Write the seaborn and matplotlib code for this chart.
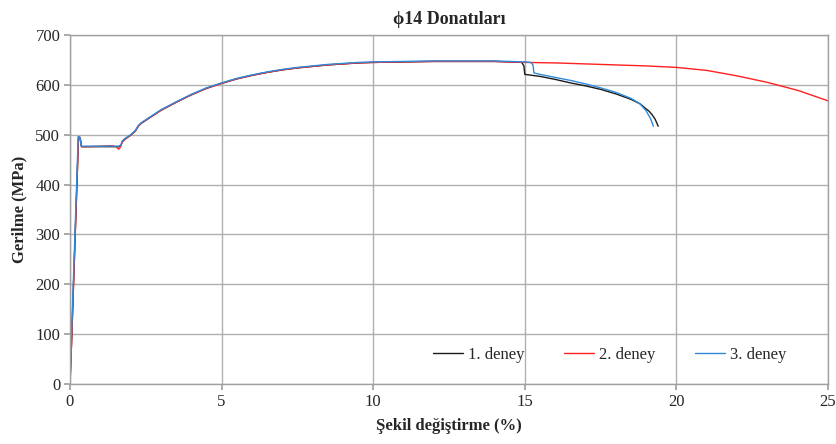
import numpy as np
import pandas as pd
import matplotlib
matplotlib.use("Agg")
import matplotlib.pyplot as plt
import seaborn as sns

# ---- data (strain %, stress MPa) ----
x1 = [0, 0.05, 0.10, 0.15, 0.20, 0.25, 0.28, 0.32, 0.34, 0.38, 0.6, 1.0, 1.4, 1.6, 1.68, 1.72, 1.8,
      2.0, 2.15, 2.25, 2.35, 2.6, 3.0, 3.5, 4.0, 4.5, 5.0, 5.5, 6.0, 6.5, 7.0, 7.5, 8.0, 8.5, 9.0,
      9.5, 10.0, 11.0, 12.0, 13.0, 14.0, 14.5, 14.9, 14.97, 15.0, 15.5, 16.0, 16.5, 17.0, 17.5,
      18.0, 18.5, 18.8, 18.9, 19.1, 19.2, 19.3, 19.4]
y1 = [0, 80, 170, 260, 350, 440, 495, 495, 492, 476, 476, 476, 476, 476, 478, 486, 491,
      499, 507, 517, 523, 533, 549, 565, 580, 593, 603, 612, 619, 625, 630, 634, 637, 640, 642,
      644, 645, 646, 647, 647, 647, 646, 645, 638, 621, 617, 611, 604, 598, 591,
      582, 571, 562, 557, 547, 540, 531, 517]

x2 = [0, 0.05, 0.10, 0.15, 0.20, 0.25, 0.28, 0.32, 0.34, 0.38, 0.6, 1.0, 1.4, 1.55, 1.6, 1.65, 1.72, 1.8,
      2.0, 2.15, 2.25, 2.35, 2.6, 3.0, 3.5, 4.0, 4.5, 5.0, 5.5, 6.0, 6.5, 7.0, 7.5, 8.0, 8.5, 9.0,
      9.5, 10.0, 11.0, 12.0, 13.0, 14.0, 15.0, 16.0, 17.0, 18.0, 19.0, 20.0, 21.0, 22.0, 23.0,
      24.0, 25.0]
y2 = [0, 80, 170, 260, 350, 440, 494, 494, 491, 476, 476, 477, 478, 475, 471, 474, 485, 490,
      499, 507, 517, 523, 533, 549, 565, 580, 593, 603, 612, 619, 625, 630, 634, 637, 640, 642,
      644, 645, 646, 647, 647, 647, 645, 644, 642, 640, 638, 635, 629, 618, 605,
      589, 568]

x3 = [0, 0.04, 0.09, 0.14, 0.19, 0.24, 0.27, 0.31, 0.33, 0.37, 0.6, 1.0, 1.4, 1.6, 1.68, 1.72, 1.8,
      2.0, 2.15, 2.25, 2.35, 2.6, 3.0, 3.5, 4.0, 4.5, 5.0, 5.5, 6.0, 6.5, 7.0, 7.5, 8.0, 8.5, 9.0,
      9.5, 10.0, 11.0, 12.0, 13.0, 14.0, 14.5, 15.0, 15.2, 15.27, 15.3, 15.5, 16.0, 16.5, 17.0,
      17.5, 18.0, 18.5, 18.8, 19.0, 19.15, 19.24]
y3 = [0, 80, 170, 260, 350, 440, 496, 496, 493, 477, 477, 477, 477, 477, 479, 487, 492,
      500, 508, 518, 524, 534, 550, 566, 581, 594, 604, 613, 620, 626, 631, 635, 638, 641, 643,
      645, 646, 647, 648, 648, 648, 647, 646, 645, 640, 624, 621, 615, 609, 602,
      594, 585, 573, 562, 548, 532, 517]

series_names = ["1. deney", "2. deney", "3. deney"]
colors = ["#1a1a1a", "#ff2020", "#2e8bdb"]

x_ticks = [0, 5, 10, 15, 20, 25]
y_ticks = [0, 100, 200, 300, 400, 500, 600, 700]

frames = []
for name, xs, ys in zip(series_names, [x1, x2, x3], [y1, y2, y3]):
    frames.append(pd.DataFrame({"x": xs, "y": ys, "seri": name}))
df = pd.concat(frames, ignore_index=True)

sns.set_theme(style="white")
plt.rcParams["font.family"] = ["Liberation Serif", "DejaVu Serif"]

fig = plt.figure(figsize=(8.36, 4.44), dpi=100)
ax = fig.add_axes([70/836, (444-384)/444, 758/836, 349/444])

sns.lineplot(data=df, x="x", y="y", hue="seri", palette=dict(zip(series_names, colors)),
             sort=False, estimator=None, units="seri", linewidth=1.0, ax=ax)

ax.set_xlim(0, 25)
ax.set_ylim(0, 700)
ax.set_xticks(x_ticks)
ax.set_yticks(y_ticks)
ax.set_xticklabels([str(v) for v in x_ticks], fontsize=12)
ax.set_yticklabels([str(v) for v in y_ticks], fontsize=12)
ax.grid(True, color="#b0b0b0", linewidth=1.0)
ax.set_axisbelow(True)
for s in ax.spines.values():
    s.set_color("#a0a0a0")
    s.set_linewidth(1.0)
ax.tick_params(axis="both", which="both", length=4, color="#a0a0a0", direction="out",
               left=True, bottom=True, pad=3)

ax.set_xlabel("Şekil değiştirme (%)", fontsize=12, fontweight="bold", labelpad=6)
ax.set_ylabel("Gerilme (MPa)", fontsize=12, fontweight="bold", labelpad=6)
ax.set_title("ϕ14 Donatıları", fontsize=13, fontweight="bold", pad=8,
             family=["Liberation Serif", "DejaVu Serif"])

ax.legend(loc="center", bbox_to_anchor=(0.712, 0.083), ncol=3, frameon=False, fontsize=12,
          handlelength=1.8, handletextpad=0.3, columnspacing=2.4, title=None)

fig.savefig("out.png", dpi=100)
